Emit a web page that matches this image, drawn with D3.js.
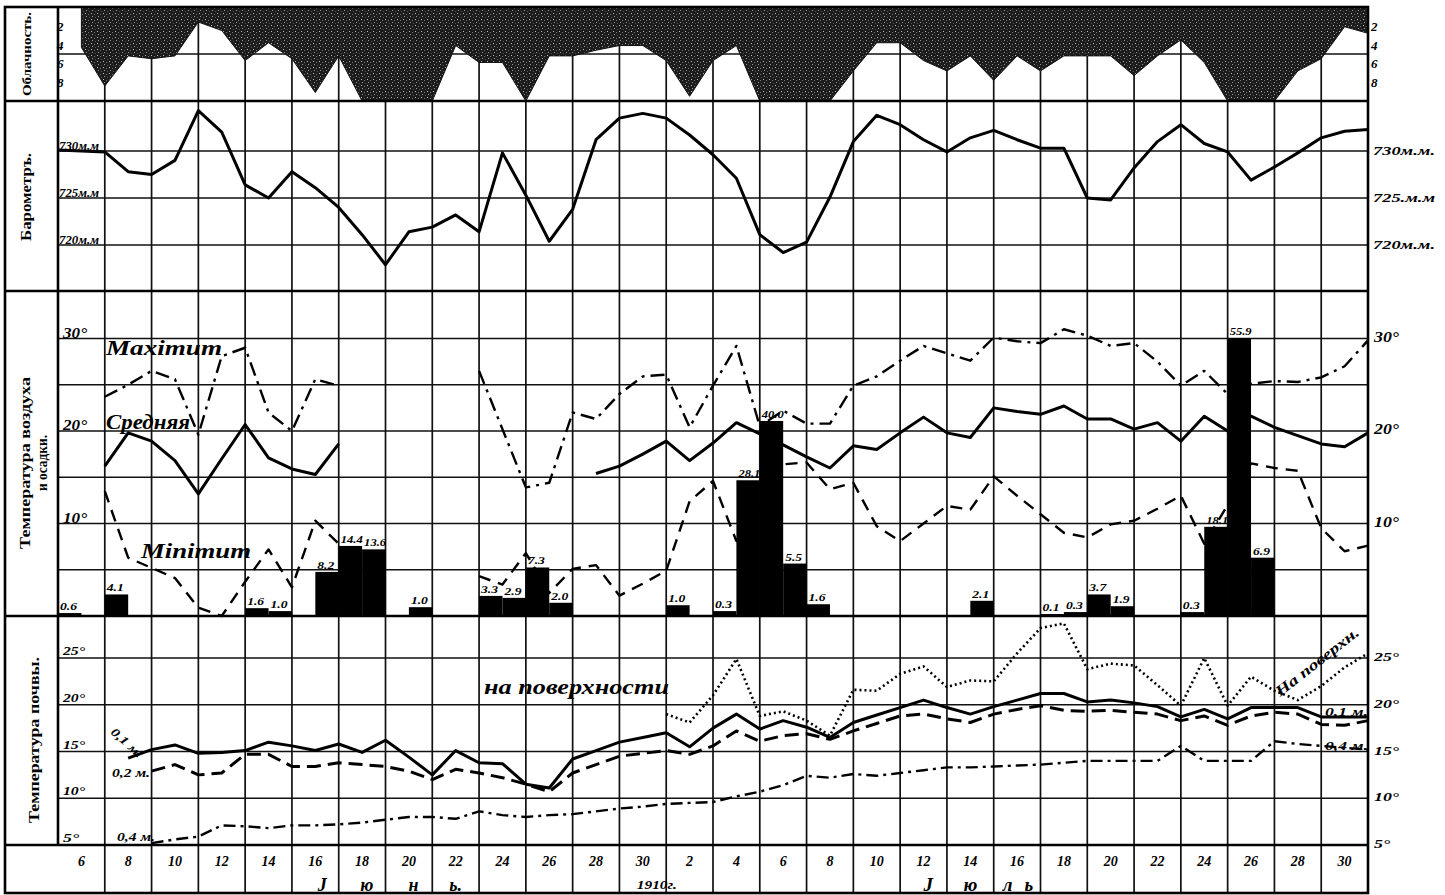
<!DOCTYPE html>
<html><head><meta charset="utf-8">
<script src="https://cdn.jsdelivr.net/npm/d3@7/dist/d3.min.js"></script>
<style>body{margin:0;background:#fff}svg{display:block}</style>
</head><body>
<svg id="c" width="1445" height="895"></svg>
<script>
// ---------- DATA (daily values, index 0 = left edge, 56 = right edge) ----------
const juneDays = [6,8,10,12,14,16,18,20,22,24,26,28,30];
const julyDays = [2,4,6,8,10,12,14,16,18,20,22,24,26,28,30];
const cloudTicks = [2,4,6,8];
const baroTicks = [730,725,720];
const baroTickLeft = ["730м.м","725м.м","720м.м"];
const baroTickRight = ["730м.м.","725.м.м","720м.м."];
const airTicks = [30,20,10];
const soilTicks = [25,20,15,10,5];

const cloud = [null,4.3,8.4,5.2,5.5,5.2,1.6,2.5,5.7,3.8,5.5,9.1,5.2,10,10,10,10,4.1,5.9,5.9,10,5.2,5.2,4.6,4.1,4.1,5.7,9.5,5.7,4.1,10,10,10,10,6.8,3.8,3.8,5.7,6.8,5.2,7.8,5.2,6.8,5.2,5.2,5.2,7.3,5.2,3.5,5.9,10,10,10,6.8,5.5,2.1,2.8];

const baro = [730.1,730,729.9,727.8,727.5,729,734.3,732,726.4,725,727.8,726.1,724,721.1,717.9,721.4,721.9,723.2,721.4,729.8,725.3,720.4,723.8,731.2,733.5,734,733.5,731.7,729.6,727.1,721.1,719.2,720.3,725.1,731,733.8,732.8,731.2,729.9,731.4,732.2,731.2,730.3,730.3,725,724.8,728.2,731,732.8,730.8,729.9,726.9,728.3,729.8,731.4,732.1,732.3];

const tMean = [null,null,16.2,19.8,18.9,16.8,13.2,17.0,20.7,17.1,15.9,15.3,18.6,null,null,null,null,null,null,null,null,null,null,15.4,16.2,17.5,18.9,16.8,18.7,20.9,19.7,18.5,17.2,16.0,18.4,18.0,19.8,21.5,19.8,19.3,22.5,22.1,21.8,22.7,21.3,21.3,20.2,20.9,18.9,21.6,20.0,21.6,20.4,19.5,18.6,18.3,19.8];

const tMax = [null,null,23.7,25.0,26.5,25.6,19.6,28.1,29.0,22.0,20.0,25.6,24.9,null,null,null,null,null,26.5,20.2,13.9,14.4,22.0,21.3,24.0,25.9,26.1,20.4,24.9,29.2,20.5,22.2,20.8,20.8,24.9,25.9,27.6,29.2,28.4,27.6,30.1,29.7,29.5,31.0,30.3,29.2,29.5,27.5,24.9,26.5,24.0,25.1,25.4,25.3,25.8,27.0,29.8];

const tMin = [null,null,13.5,6.3,5.2,4.1,0.9,0.0,3.7,7.2,3.1,10.3,7.8,null,null,null,null,null,4.3,3.4,6.8,2.5,5.1,5.5,2.2,3.5,4.9,12.4,14.6,8.1,12.0,16.4,16.6,13.7,14.4,9.7,8.1,10.0,11.9,11.5,15.1,13.0,11.0,9.0,8.5,9.9,10.3,11.6,13.0,7.8,12.0,16.5,16.0,15.7,9.5,7.0,7.6];

// precipitation: day slot, drawn height (mm), written label
const precDay = [0,2,8,9,11,12,13,15,18,19,20,21,26,28,29,30,31,32,39,42,43,44,45,48,49,50,51];
const precMM  = [0.6,4.4,1.6,1.0,9.0,14.3,13.6,1.8,4.1,3.7,9.9,2.7,2.2,1.0,27.7,39.8,10.7,2.4,3.1,0.4,0.8,4.4,2.0,0.8,18.2,56.7,11.9];
const precLbl = ["0.6","4.1","1.6","1.0","8.2","14.4","13.6","1.0","3.3","2.9","7.3","2.0","1.0","0.3","28.1","40.0","5.5","1.6","2.1","0.1","0.3","3.7","1.9","0.3","18.1","55.9","6.9"];

const soil01 = [null,null,null,14.3,15.2,15.7,14.8,14.9,15.1,16.0,15.6,15.1,15.8,14.9,16.2,14.4,12.5,15.1,13.8,13.7,11.5,11.1,14.2,15.1,16.0,16.5,17.0,15.5,17.5,19.0,17.4,18.3,17.6,16.5,18.1,18.9,19.7,20.5,19.7,19.0,19.8,20.5,21.2,21.2,20.3,20.5,20.2,19.8,18.7,19.5,18.5,19.7,19.7,19.7,18.7,18.7,18.7];
const soil02 = [null,null,null,null,12.9,13.6,12.5,12.7,14.7,14.7,13.4,13.4,13.8,13.6,13.4,12.9,12.0,13.1,12.7,12.2,11.5,10.7,12.7,13.6,14.5,14.8,15.1,14.7,15.6,17.2,16.1,16.7,16.9,16.3,17.2,18.0,18.8,19.0,18.5,18.1,19.0,19.5,19.9,19.4,19.3,19.4,19.2,19.0,18.3,18.8,17.8,18.8,19.2,19.0,17.9,17.8,18.3];
const soil04 = [null,null,null,null,5.2,5.6,5.9,7.1,7.0,6.8,7.1,7.1,7.2,7.4,7.7,8.0,8.0,7.8,8.6,8.2,8.0,8.2,8.3,8.6,8.9,9.1,9.4,9.5,9.6,10.2,10.7,11.4,12.4,12.2,12.6,12.4,12.7,13.0,13.3,13.3,13.4,13.5,13.6,13.8,14.0,14.0,14.0,14.0,15.6,14.0,14.0,14.0,16.1,15.8,15.6,15.4,15.2];
const soilSurf = [null,null,null,null,null,null,null,null,null,null,null,null,null,null,null,null,null,null,null,null,null,null,null,null,null,null,19.0,18.1,21.0,24.9,18.8,19.3,18.3,16.7,21.6,21.5,23.3,24.1,21.9,22.6,22.5,25.5,28.2,28.7,23.8,24.4,24.2,22.1,19.9,25.0,19.9,23.0,21.5,20.5,22.0,24.0,25.5];

// ---------- LAYOUT ----------
const svg = d3.select('#c');
const FL = 5, X0 = 58, X1 = 1368, TOP = 7, BOT = 893;
const B1 = 101, B2 = 291, B3 = 616, B4 = 845;
const FONT = "'Liberation Serif', 'DejaVu Serif', serif";

const x = d3.scaleLinear().domain([0,56]).range([X0,X1]);
const yCloud = d3.scaleLinear().domain([0,10]).range([TOP,B1]);
const yBaro = d3.scaleLinear().domain([730,720]).range([151,245]);
const yAir = d3.scaleLinear().domain([0,30]).range([B3,B3-277.5]);
const yPrec = d3.scaleLinear().domain([0,10]).range([B3,B3-49]);
const ySoil = d3.scaleLinear().domain([5,25]).range([B4,658]);

const defs = svg.append('defs');
const pat = defs.append('pattern').attr('id','stip').attr('width',6).attr('height',6).attr('patternUnits','userSpaceOnUse');
pat.append('rect').attr('width',6).attr('height',6).attr('fill','#1c1c1c');
[[1,1,'#bbb'],[4,2,'#777'],[2,4,'#999'],[5,5,'#555']].forEach(p=>pat.append('rect').attr('x',p[0]).attr('y',p[1]).attr('width',1).attr('height',1).attr('fill',p[2]));

const grid = svg.append('g').attr('stroke','#111').attr('stroke-width',1.7).attr('fill','none');
// vertical grid lines (every 2 days)
d3.range(2,56,2).forEach(i=>{
  grid.append('line').attr('x1',x(i)).attr('x2',x(i)).attr('y1',TOP).attr('y2',BOT);
});
// horizontal grid lines
grid.append('line').attr('x1',X0).attr('x2',X1).attr('y1',yCloud(5)).attr('y2',yCloud(5));
baroTicks.forEach(v=>grid.append('line').attr('x1',X0).attr('x2',X1).attr('y1',yBaro(v)).attr('y2',yBaro(v)));
d3.range(5,35,5).forEach(v=>grid.append('line').attr('x1',X0).attr('x2',X1).attr('y1',yAir(v)).attr('y2',yAir(v)));
[10,15,20,25].forEach(v=>grid.append('line').attr('x1',X0).attr('x2',X1).attr('y1',ySoil(v)).attr('y2',ySoil(v)));

// cloudiness area
const cData = cloud.map((v,i)=>({i,v}));
svg.append('path').datum(cData)
  .attr('d', d3.area().defined(d=>d.v!=null).x(d=>x(d.i)).y0(TOP).y1(d=>yCloud(d.v)))
  .attr('fill','url(#stip)').attr('stroke','#111').attr('stroke-width',1);

// frame
const frame = svg.append('g').attr('stroke','#000').attr('stroke-width',2.6).attr('fill','none');
frame.append('rect').attr('x',FL).attr('y',TOP).attr('width',X1-FL).attr('height',BOT-TOP);
[B1,B2,B3,B4].forEach(b=>frame.append('line').attr('x1',FL).attr('x2',X1).attr('y1',b).attr('y2',b));
frame.append('line').attr('x1',X0).attr('x2',X0).attr('y1',TOP).attr('y2',B4);

function lineOf(arr, y, opts){
  const data = arr.map((v,i)=>({i,v}));
  svg.append('path').datum(data)
    .attr('d', d3.line().defined(d=>d.v!=null).x(d=>x(d.i)).y(d=>y(d.v)))
    .attr('fill','none').attr('stroke','#000')
    .attr('stroke-width',opts.w).attr('stroke-dasharray',opts.dash||null)
    .attr('stroke-linejoin','round').attr('stroke-linecap',opts.cap||'butt');
}

// barometer
lineOf(baro, yBaro, {w:3});

// precipitation bars
svg.append('g').selectAll('rect').data(precDay.map((d,k)=>({d,mm:precMM[k],lbl:precLbl[k]}))).join('rect')
  .attr('x',p=>x(p.d)).attr('width',p=>x(p.d+1)-x(p.d))
  .attr('y',p=>yPrec(p.mm)).attr('height',p=>B3-yPrec(p.mm)).attr('fill','#000');

// air temperatures
lineOf(tMean, yAir, {w:3});
lineOf(tMax, yAir, {w:2.4, dash:'14,6,3,6'});
lineOf(tMin, yAir, {w:2.4, dash:'12,8'});

// soil temperatures
lineOf(soilSurf, ySoil, {w:2.6, dash:'2,3'});
lineOf(soil01, ySoil, {w:3});
lineOf(soil02, ySoil, {w:3, dash:'14,7'});
lineOf(soil04, ySoil, {w:2.4, dash:'12,5,3,5'});

// ---------- TEXT ----------
function txt(g, s, px, py, size, opts={}){
  const t = g.append('text').attr('x',px).attr('y',py).text(s)
    .attr('font-family',FONT).attr('font-size',size)
    .attr('font-weight',opts.weight||'bold').attr('font-style',opts.style||'italic')
    .attr('fill','#000');
  if(opts.anchor) t.attr('text-anchor',opts.anchor);
  if(opts.len){ t.attr('textLength',opts.len).attr('lengthAdjust','spacingAndGlyphs'); }
  if(opts.rot!=null) t.attr('transform',`rotate(${opts.rot},${px},${py})`);
  return t;
}
const T = svg.append('g');

// left column panel titles
txt(T,'Облачность.',31,yCloud(5),13,{style:'normal',anchor:'middle',rot:-90,len:84});
txt(T,'Барометръ.',31,197,14,{style:'normal',anchor:'middle',rot:-90,len:88});
txt(T,'Температура воздуха',30,463,14,{style:'normal',anchor:'middle',rot:-90,len:172});
txt(T,'и осадки.',47,463,14,{style:'normal',anchor:'middle',rot:-90,len:56});
txt(T,'Температура почвы.',39,740,14,{style:'normal',anchor:'middle',rot:-90,len:166});

// cloud ticks
cloudTicks.forEach(v=>{
  txt(T,String(v),57,yCloud(v)+5,13);
  txt(T,String(v),1371,yCloud(v)+5,13);
});
// barometer ticks
baroTicks.forEach((v,k)=>{
  txt(T,baroTickLeft[k],X0+1,yBaro(v)-1,12,{len:40});
  txt(T,baroTickRight[k],1373,yBaro(v)+4,13,{len:62});
});
// air ticks
airTicks.forEach(v=>{
  txt(T,v+'°',X0+5,yAir(v)-1,14,{len:24});
  txt(T,v+'°',1374,yAir(v)+3,14,{len:25});
});
// soil ticks
soilTicks.forEach(v=>{
  txt(T,v+'°',X0+5,ySoil(v)-3,13,{len:v<10?16:22});
  txt(T,v+'°',1374,ySoil(v)+3,13,{len:v<10?16:25});
});

// precipitation labels
precDay.forEach((d,k)=>{
  const yy = yPrec(precMM[k])-3;
  txt(T,precLbl[k],x(d)+2,Math.min(yy,B3-4),11,{len:precLbl[k].length>3?22:17});
});

// series labels
txt(T,'Maximum',106,355,21,{len:116});
txt(T,'Средняя',106,429,20,{len:84});
txt(T,'Minimum',141,558,21,{len:110});
txt(T,'на поверхности',484,694,21,{len:185});
txt(T,'0,1 м.',110,733,12,{rot:42,len:38});
txt(T,'0,2 м.',112,777,12,{len:38});
txt(T,'0,4 м.',117,841,12,{len:38});
txt(T,'На поверхн.',1280,697,15,{rot:-38,len:102});
txt(T,'0,1 м.',1325,716,13,{len:43});
txt(T,'0,4 м.',1325,750,13,{len:43});

// bottom axis: day numbers at cell centres
const dayLabels = juneDays.concat(julyDays);
dayLabels.forEach((d,k)=>{
  txt(T,String(d),x(2*k+1),866,14,{anchor:'middle'});
});
// month names (letters spread under the day numbers)
[['J',11.3],['ю',13.2],['н',15.2],['ь.',17.0]].forEach(p=>txt(T,p[0],x(p[1]),891,18,{anchor:'middle'}));
txt(T,'1910г.',x(25.6),889,13,{anchor:'middle',len:40});
[['J',37.2],['ю',39.0],['л',40.6],['ь',41.5]].forEach(p=>txt(T,p[0],x(p[1]),891,19,{anchor:'middle'}));
</script>
</body></html>
